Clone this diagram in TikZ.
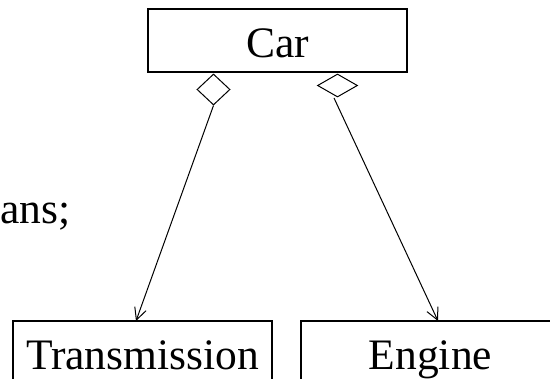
\documentclass[tikz,border=0pt]{standalone}
\usepackage{fontspec}
\setmainfont{Liberation Serif}
\usetikzlibrary{arrows.meta,shapes.geometric}
\begin{document}
\begin{tikzpicture}[x=1pt,y=-1pt,
  txt/.style={font=\fontsize{43.5}{50}\selectfont},
  cls/.style={txt, draw, line width=2.7pt, rectangle, inner sep=0pt,
    minimum width=259pt, minimum height=63pt, text height=35pt, text depth=0pt},
  agg/.style={draw, diamond, line width=1pt, inner sep=0pt},
  link/.style={line width=1pt, -{Straight Barb[length=12pt,width=12pt]}}]
\useasboundingbox (0,0) rectangle (550,379);
\node[cls] (car) at (277.5,40.5) {Car};
\node[cls] (trans) at (142.5,352.5) {Transmission};
\node[cls] (engine) at (430.5,352.5) {Engine};
\node[agg, minimum width=33pt, minimum height=31pt] (d1) at (213.5,89.5) {};
\node[agg, minimum width=40pt, minimum height=23pt] (d2) at (337.5,85.5) {};
\node[txt, anchor=base west, inner sep=0pt] (frag) at (0,224) {ans;};
\coordinate (s2) at (334,98);
\coordinate (t1) at (136,321);
\coordinate (t2) at (438,321);
\draw[link] (d1.south) -- (t1);
\draw[link] (s2) -- (t2);
\end{tikzpicture}
\end{document}
